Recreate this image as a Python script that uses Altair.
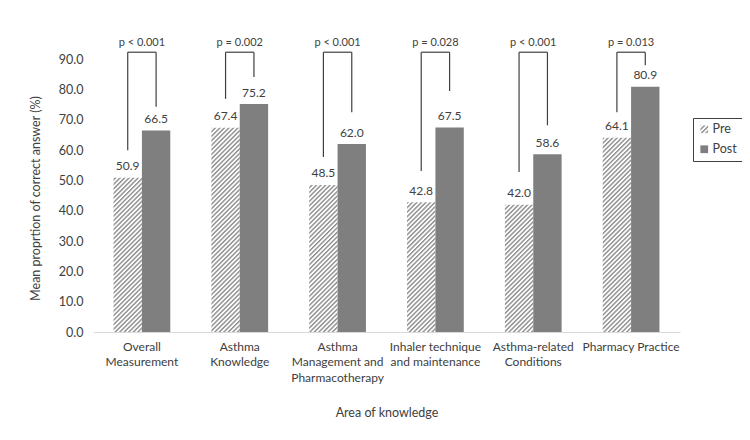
import altair as alt
import pandas as pd
import jinja2

# ---------------- data ----------------
categories = [
    "Overall|Measurement",
    "Asthma|Knowledge",
    "Asthma|Management and|Pharmacotherapy",
    "Inhaler technique|and maintenance",
    "Asthma-related|Conditions",
    "Pharmacy Practice",
]
groups = ["Pre", "Post"]
pre_values = [50.9, 67.4, 48.5, 42.8, 42.0, 64.1]
post_values = [66.5, 75.2, 62.0, 67.5, 58.6, 80.9]
p_labels = ["p < 0.001", "p = 0.002", "p < 0.001", "p = 0.028", "p < 0.001", "p = 0.013"]
pre_bracket_end = [60.0, 76.9, 57.7, 53.1, 52.8, 72.5]
post_bracket_end = [74.3, 84.1, 72.5, 79.5, 68.2, 88.0]
bracket_top = [92.3] * 6
p_label_level = [95.2] * 6
y_ticks = [0, 10, 20, 30, 40, 50, 60, 70, 80, 90]

long_df = pd.DataFrame({
    "cat": categories * 2,
    "group": ["Pre"] * len(categories) + ["Post"] * len(categories),
    "value": pre_values + post_values,
})
br_df = pd.DataFrame({
    "cat": categories,
    "pre_end": pre_bracket_end,
    "post_end": post_bracket_end,
    "top": bracket_top,
    "plab": p_label_level,
    "p": p_labels,
})

FONT = "Lato"
TXT = "#404040"
LINE = "#404040"
XT = "Area of knowledge"
YT = "Mean proprtion of correct answer (%)"

xscale = alt.Scale(paddingInner=0.42, paddingOuter=0.21)
yscale = alt.Scale(domain=[0, 96], nice=False, zero=True)

x_axis = alt.Axis(
    labelExpr="split(datum.label, '|')", labelAngle=0,
    labelPadding=9, labelLineHeight=15.5, labelFontSize=12, labelFont=FONT,
    labelColor=TXT, ticks=False, domainColor="#d9d9d9", domainWidth=1,
    titleFont=FONT, titleFontSize=12.5, titleFontWeight="normal", titleColor=TXT,
    titleY=80, titleBaseline="middle", labelBaseline="top", grid=False,
    labelOverlap=False,
)
y_axis = alt.Axis(
    values=y_ticks, format=".1f", labelOverlap=False, tickCount=10,
    grid=False, domain=False, ticks=False, labelPadding=10, labelFontSize=12.5,
    labelFont=FONT, labelColor=TXT, titleFont=FONT, titleFontSize=12.5,
    titleFontWeight="normal", titleColor=TXT, titleX=-58, titleY=157,
    titleAngle=270, titleBaseline="middle", titleAlign="center",
)

xoff = alt.XOffset("group:N", sort=groups, scale=alt.Scale(paddingInner=0, paddingOuter=0))

bars = alt.Chart(long_df).mark_bar().encode(
    x=alt.X("cat:N", sort=categories, scale=xscale, axis=x_axis, title=XT),
    xOffset=xoff,
    y=alt.Y("value:Q", scale=yscale, axis=y_axis, title=YT),
    color=alt.Color(
        "group:N", sort=groups,
        scale=alt.Scale(domain=groups, range=["url(#hatch)", "#7f7f7f"]),
        legend=alt.Legend(
            title=None, orient="none", legendX=600, legendY=77,
            strokeColor="#404040", padding=5, symbolType="square",
            symbolSize=60, symbolStrokeWidth=0, labelFont=FONT,
            labelFontSize=12.5, labelColor=TXT, rowPadding=7, labelOffset=2,
        ),
    ),
)

values_text = alt.Chart(long_df).mark_text(
    dy=-11.5, fontSize=12, font=FONT, color=TXT, baseline="middle"
).encode(
    x=alt.X("cat:N", sort=categories, title=XT),
    xOffset=xoff,
    y=alt.Y("value:Q", scale=yscale, title=YT),
    text=alt.Text("value:Q", format=".1f"),
)

left_rule = alt.Chart(br_df).mark_rule(color=LINE, strokeWidth=1.2).encode(
    x=alt.X("cat:N", sort=categories, bandPosition=0.25, title=XT),
    y=alt.Y("pre_end:Q", scale=yscale, title=YT),
    y2="top:Q",
)
right_rule = alt.Chart(br_df).mark_rule(color=LINE, strokeWidth=1.2).encode(
    x=alt.X("cat:N", sort=categories, bandPosition=0.75, title=XT),
    y=alt.Y("post_end:Q", scale=yscale, title=YT),
    y2="top:Q",
)
top_rule = alt.Chart(br_df).mark_rule(color=LINE, strokeWidth=1.2).encode(
    x=alt.X("cat:N", sort=categories, bandPosition=0.25, title=XT),
    x2=alt.X2("cat:N", bandPosition=0.75),
    y=alt.Y("top:Q", scale=yscale, title=YT),
)
p_text = alt.Chart(br_df).mark_text(
    fontSize=11, font=FONT, color=TXT, baseline="middle"
).encode(
    x=alt.X("cat:N", sort=categories, title=XT),
    y=alt.Y("plab:Q", scale=yscale, title=YT),
    text="p:N",
)

chart = alt.layer(bars, values_text, left_rule, right_rule, top_rule, p_text).properties(
    width=587, height=291,
    autosize=alt.AutoSizeParams(type="none"),
    padding={"left": 85, "top": 33, "right": 62, "bottom": 100},
    background="white",
).configure_view(stroke=None)

TEMPLATE = jinja2.Template("""<!DOCTYPE html>
<html>
<head>
  <style>
    #{{ output_div }}.vega-embed { width: 100%; display: flex; }
  </style>
  <script type="text/javascript" src="{{ base_url }}/vega@{{ vega_version }}"></script>
  <script type="text/javascript" src="{{ base_url }}/vega-lite@{{ vegalite_version }}"></script>
  <script type="text/javascript" src="{{ base_url }}/vega-embed@{{ vegaembed_version }}"></script>
</head>
<body>
  <svg width="0" height="0" style="position:absolute">
    <defs>
      <pattern id="hatch" patternUnits="userSpaceOnUse" width="3.2" height="3.2" patternTransform="rotate(45)">
        <rect width="3.2" height="3.2" fill="#ffffff"></rect>
        <rect width="1.4" height="3.2" fill="#8c8c8c"></rect>
      </pattern>
    </defs>
  </svg>
  <div id="{{ output_div }}"></div>
  <script>
    (function(vegaEmbed) {
      var spec = {{ spec }};
      var embedOpt = {{ embed_options }};
      vegaEmbed("#{{ output_div }}", spec, embedOpt).catch(function(e) { console.error(e); });
    })(vegaEmbed);
  </script>
</body>
</html>
""")

chart.save("out.html", embed_options={"renderer": "svg", "actions": False}, template=TEMPLATE)
